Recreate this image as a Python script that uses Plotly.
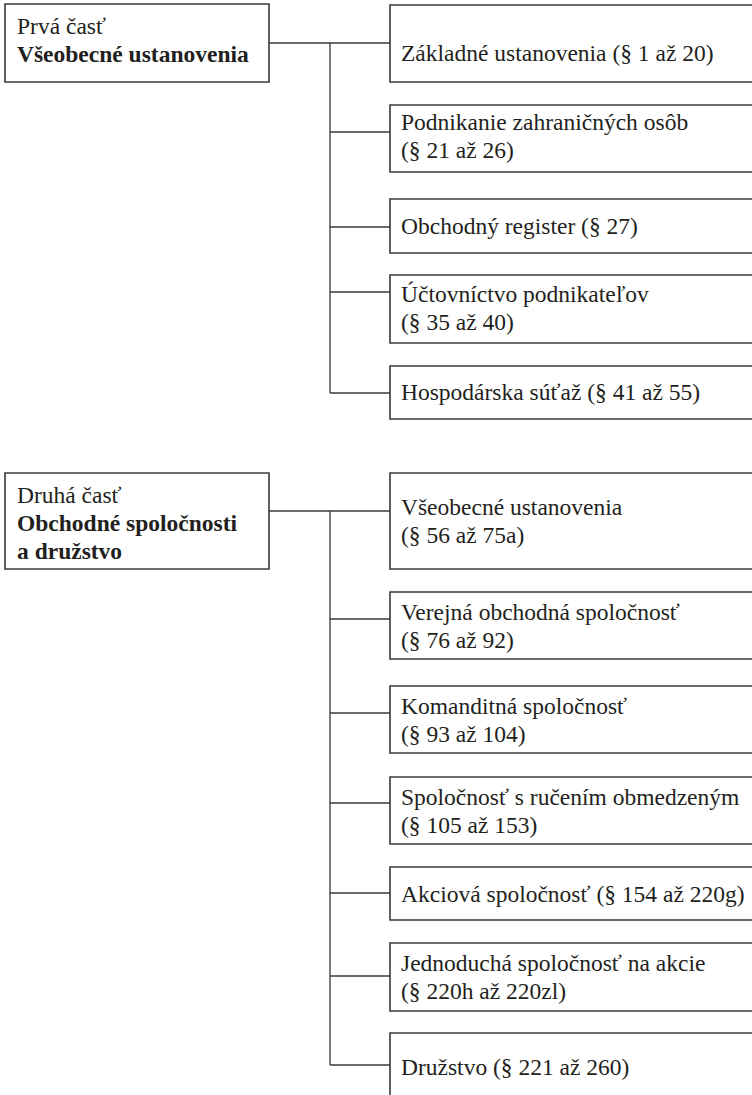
import plotly.graph_objects as go

# ---- content ----
part_labels = ["Prvá časť", "Druhá časť"]
part_titles = ["Všeobecné ustanovenia", "Obchodné spoločnosti<br>a družstvo"]

part1_chapters = [
    "Základné ustanovenia (§ 1 až 20)",
    "Podnikanie zahraničných osôb<br>(§ 21 až 26)",
    "Obchodný register (§ 27)",
    "Účtovníctvo podnikateľov<br>(§ 35 až 40)",
    "Hospodárska súťaž (§ 41 až 55)",
]
part2_chapters = [
    "Všeobecné ustanovenia<br>(§ 56 až 75a)",
    "Verejná obchodná spoločnosť<br>(§ 76 až 92)",
    "Komanditná spoločnosť<br>(§ 93 až 104)",
    "Spoločnosť s ručením obmedzeným<br>(§ 105 až 153)",
    "Akciová spoločnosť (§ 154 až 220g)",
    "Jednoduchá spoločnosť na akcie<br>(§ 220h až 220zl)",
    "Družstvo (§ 221 až 260)",
]

# ---- layout geometry (pixels, y downwards) ----
W, H = 752, 1095
LEFT_X = (5, 269)
RIGHT_X = (390, 765)
TRUNK_X = 330
LINE_GAP = 28
part_box_y = [(4, 82), (473, 569)]
part_text_y = [40, 523]
part1_box_y = [(5, 82), (105, 172), (199, 253), (275, 343), (366, 419)]
part1_branch_y = [43, 132, 227, 292, 393]
part1_text_y = [53, 136, 226, 308, 392]
part2_box_y = [(473, 569), (592, 659), (686, 753), (777, 844), (867, 920), (943, 1011), (1033, 1105)]
part2_branch_y = [511, 619, 713, 803, 893, 976, 1065]
part2_text_y = [521, 626, 720, 811, 894, 977, 1067]

LINE = "#3a3a3a"
TEXT = "#231f20"
FONT = "Liberation Serif"
FS = 23.5

fig = go.Figure()
shapes = []
annotations = []


def box(x0, x1, y0, y1):
    shapes.append(dict(type="rect", xref="x", yref="y", x0=x0, x1=x1, y0=y0, y1=y1,
                       line=dict(color=LINE, width=1.6), fillcolor="rgba(0,0,0,0)"))


def seg(x0, y0, x1, y1):
    shapes.append(dict(type="line", xref="x", yref="y", x0=x0, x1=x1, y0=y0, y1=y1,
                       line=dict(color=LINE, width=1.3)))


def label(x, yc, lines):
    n = len(lines)
    for k, txt in enumerate(lines):
        y = yc + (k - (n - 1) / 2) * LINE_GAP
        annotations.append(dict(x=x, y=y, xref="x", yref="y", text=txt, showarrow=False,
                                xanchor="left", yanchor="middle", align="left",
                                font=dict(family=FONT, size=FS, color=TEXT)))


groups = [
    (part1_chapters, part1_box_y, part1_branch_y, part1_text_y),
    (part2_chapters, part2_box_y, part2_branch_y, part2_text_y),
]

for i, (chapters, boxes_y, branches, texts_y) in enumerate(groups):
    py0, py1 = part_box_y[i]
    box(LEFT_X[0], LEFT_X[1], py0, py1)
    part_lines = [part_labels[i]] + ["<b>" + t + "</b>" for t in part_titles[i].split("<br>")]
    label(LEFT_X[0] + 10, part_text_y[i], part_lines)
    seg(LEFT_X[1], branches[0], TRUNK_X, branches[0])
    seg(TRUNK_X, branches[0], TRUNK_X, branches[-1])
    for ch, (y0, y1), by, ty in zip(chapters, boxes_y, branches, texts_y):
        box(RIGHT_X[0], RIGHT_X[1], y0, y1)
        seg(TRUNK_X, by, RIGHT_X[0], by)
        label(RIGHT_X[0] + 9, ty, ch.split("<br>"))

fig.update_layout(
    width=W, height=H,
    margin=dict(l=0, r=0, t=0, b=0),
    paper_bgcolor="white", plot_bgcolor="white",
    font=dict(family=FONT),
    xaxis=dict(range=[0, W], visible=False, fixedrange=True),
    yaxis=dict(range=[H, 0], visible=False, fixedrange=True),
    shapes=shapes, annotations=annotations, showlegend=False,
)

fig.write_html("out.html",
               config={"displayModeBar": False},
               post_script="document.body.style.margin='0';document.body.style.overflow='hidden';")
